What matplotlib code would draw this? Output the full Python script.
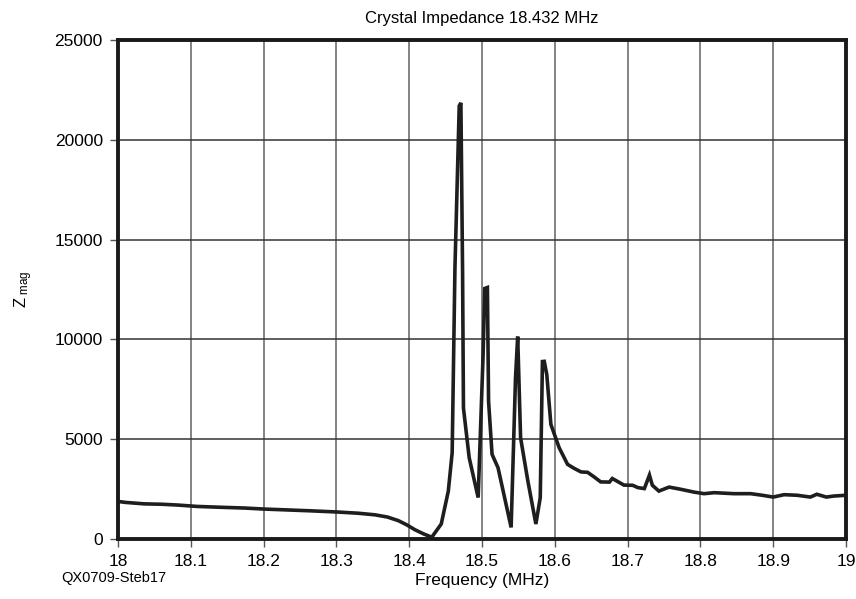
import numpy as np
import matplotlib
matplotlib.use("Agg")
import matplotlib.pyplot as plt

plt.rcParams["font.family"] = ["Liberation Sans", "DejaVu Sans"]
plt.rcParams["mathtext.fontset"] = "custom"
plt.rcParams["mathtext.rm"] = "Liberation Sans"
plt.rcParams["mathtext.it"] = "Liberation Sans"

# Measured impedance magnitude vs frequency (MHz)
freq_mhz = [18.000, 18.011, 18.036, 18.060, 18.082, 18.109, 18.140, 18.174,
            18.200, 18.229, 18.265, 18.302, 18.330, 18.353, 18.370, 18.385,
            18.397, 18.408, 18.420, 18.431, 18.444, 18.4537, 18.459, 18.4628,
            18.4687, 18.471, 18.4733, 18.4745, 18.4824, 18.4947, 18.5015,
            18.5037, 18.5074, 18.509, 18.5138, 18.522, 18.540, 18.546, 18.549,
            18.553, 18.563, 18.574, 18.580, 18.583, 18.5855, 18.589, 18.5946,
            18.606, 18.6175, 18.626, 18.636, 18.645, 18.654, 18.663, 18.675,
            18.679, 18.695, 18.707, 18.714, 18.723, 18.730, 18.734, 18.743,
            18.757, 18.773, 18.791, 18.805, 18.819, 18.846, 18.869, 18.885,
            18.900, 18.915, 18.933, 18.951, 18.960, 18.973, 18.983, 19.000]
z_mag = [1880, 1830, 1760, 1740, 1700, 1630, 1590, 1550,
         1500, 1460, 1410, 1350, 1290, 1210, 1100, 920,
         700, 460, 250, 90, 750, 2400, 4320, 13550,
         21700, 21850, 13380, 6560, 4070, 2075, 9230,
         12550, 12600, 6900, 4240, 3570, 580, 8060, 10140,
         5070, 2900, 750, 2075, 8890, 8900, 8230, 5740,
         4570, 3740, 3550, 3360, 3340, 3110, 2860, 2850,
         3030, 2700, 2690, 2575, 2525, 3200, 2690, 2400,
         2600, 2490, 2350, 2270, 2320, 2270, 2270, 2190,
         2100, 2220, 2190, 2100, 2240, 2100, 2150, 2190]

x_ticks = [18.0, 18.1, 18.2, 18.3, 18.4, 18.5, 18.6, 18.7, 18.8, 18.9, 19.0]
x_labels = ["18", "18.1", "18.2", "18.3", "18.4", "18.5", "18.6", "18.7",
            "18.8", "18.9", "19"]
y_ticks = [0, 5000, 10000, 15000, 20000, 25000]

fig = plt.figure(figsize=(8.56, 5.99), dpi=100)
ax = fig.add_axes([0.1379, 0.1002, 0.8504, 0.8330])

ax.plot(freq_mhz, z_mag, color="#1e1e1e", lw=2.6, solid_joinstyle="miter")

ax.set_xlim(18.0, 19.0)
ax.set_ylim(0, 25000)
ax.set_xticks(x_ticks)
ax.set_xticklabels(x_labels)
ax.set_yticks(y_ticks)
ax.tick_params(direction="out", length=6, width=1, labelsize=12.5, pad=5,
               color="#555555")

for x in x_ticks[1:-1]:
    ax.axvline(x, color="#7a7a7a", lw=1.3, zorder=0)
for y in y_ticks[1:-1]:
    ax.axhline(y, color="#333333", lw=1.1, zorder=0)

for s in ax.spines.values():
    s.set_linewidth(2.8)
    s.set_color("#1a1a1a")

ax.set_title("Crystal Impedance 18.432 MHz", fontsize=12, pad=12)
ax.set_xlabel("Frequency (MHz)", fontsize=12.5, labelpad=3)
ax.set_ylabel(r"Z$_{\rm\ mag}$", fontsize=12, labelpad=14)
fig.text(0.072, 0.0467, "QX0709-Steb17", fontsize=10.5, va="top")

fig.savefig("out.png", dpi=100)
